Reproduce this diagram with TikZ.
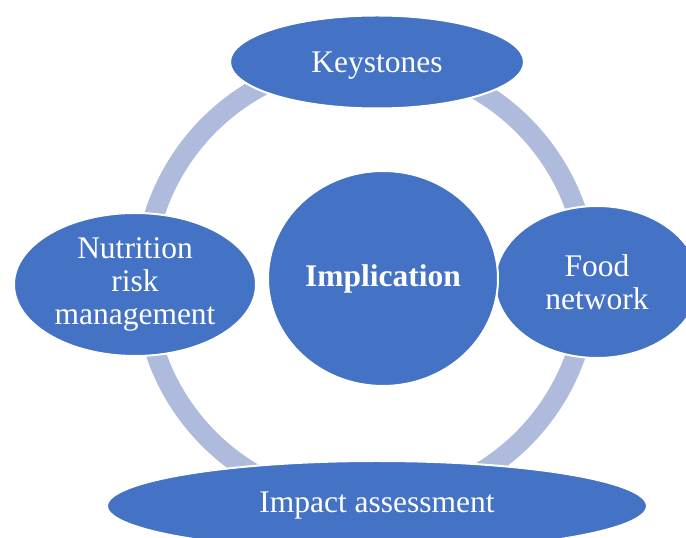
\documentclass[tikz,border=0pt]{standalone}
\usepackage{fontspec}
\setmainfont{Liberation Serif}
\usetikzlibrary{shapes.geometric}
\definecolor{bubble}{RGB}{68,114,196}
\definecolor{ringcol}{RGB}{175,187,221}

\begin{document}
\begin{tikzpicture}[x=1pt,y=1pt,
  blob/.style={draw=white, line width=2pt, fill=bubble, ellipse, inner sep=0pt,
    text=white, align=center, font=\fontsize{31.5}{33}\selectfont},
  ring/.style={draw=ringcol, line width=20pt}]
\useasboundingbox (0,0) rectangle (686,538);
\clip (0,0) rectangle (686,538);

\coordinate (c) at (366,256);
\draw[ring] (c) circle (222pt);

\node[blob, minimum width=294, minimum height=93, text depth=0pt] (key) at (377,476) {Keystones};
\node[blob, minimum width=204, minimum height=152] (food) at (597,256) {Food\\network};
\node[blob, minimum width=242, minimum height=143] (nutr) at (135,253.5) {Nutrition\\risk\\management};
\node[blob, minimum width=540, minimum height=90] (imp) at (377,32) {Impact assessment};
\node[blob, minimum width=230, minimum height=215] (impl) at (383,259.5) {\textbf{Implication}};
\end{tikzpicture}
\end{document}
